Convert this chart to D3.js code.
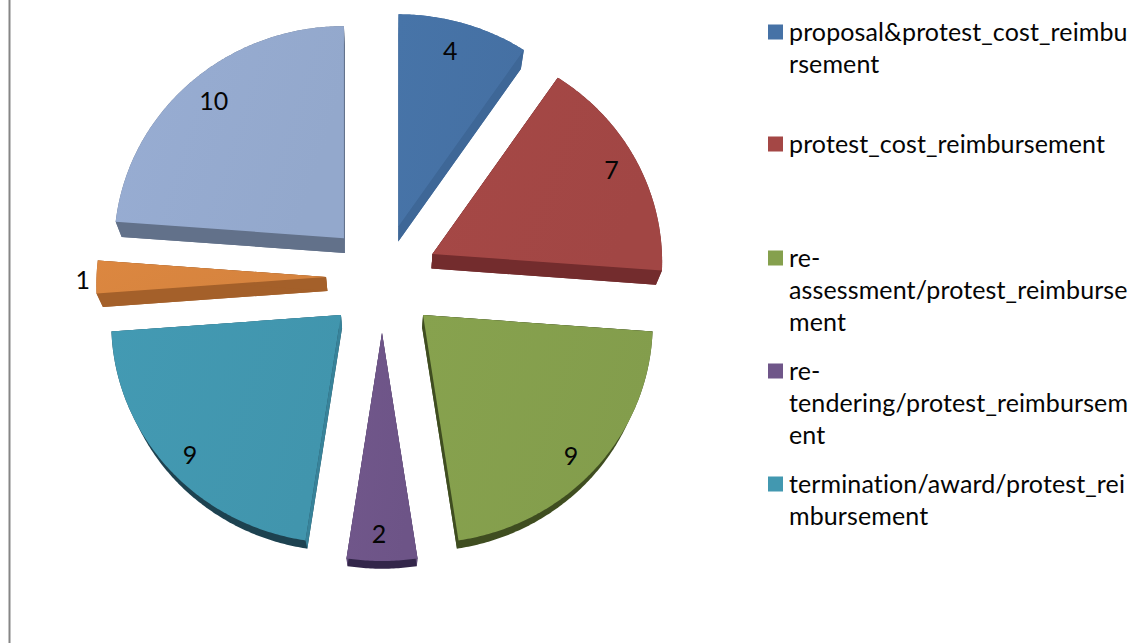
<!DOCTYPE html>
<html><head><meta charset="utf-8">
<script src="https://cdn.jsdelivr.net/npm/d3@7"></script>
<style>html,body{margin:0;padding:0;background:#fff;overflow:hidden}svg{display:block}text{font-family:Lato,"Open Sans",sans-serif;fill:#050505;font-variant-ligatures:none}</style>
</head><body><svg id="c" width="1147" height="643"></svg>
<script>
const values = [4, 7, 9, 2, 9, 1, 10];
const faceColors = ["#4672a6", "#a44745", "#85a04d", "#6f5689", "#4298b0", "#d9853f", "#96abd0"];
const rimColors  = ["#3e6797", "#732c2d", "#3f4d20", "#33264a", "#1d4250", "#a4602a", "#62718a"];
const sideColors = ["#3e6797", "#732c2d", "#3f4d20", "#5f4a78", "#38839a", "#a4602a", "#62718a"];
const legendLines = [
  ["proposal&protest_cost_reimbu", "rsement"],
  ["protest_cost_reimbursement"],
  ["re-", "assessment/protest_reimburse", "ment"],
  ["re-", "tendering/protest_reimbursem", "ent"],
  ["termination/award/protest_rei", "mbursement"]
];
const legendTops = [32, 144, 258, 371, 484];
const labelNudge = [[-5,0],[2,-3],[-2,7],[-3,2],[-1,6],[-1,2],[2,-2]];

const svg = d3.select("#c");
svg.append("line").attr("x1",9.5).attr("x2",9.5).attr("y1",0).attr("y2",643).attr("stroke","#868686").attr("stroke-width",2);

const cx = 382, cy = 277, explode = 56, explodeUp = 53;
const rxScale = d3.scaleLinear().domain([1,-1]).range([221,238]);
const ryScale = d3.scaleLinear().domain([1,-1]).range([212,228]);
const vanish = [388, 913], depth = 0.022;
const project = a => [rxScale(Math.cos(a))*Math.sin(a), -ryScale(Math.cos(a))*Math.cos(a)];
const extrude = p => [vanish[0]+(p[0]-vanish[0])*(1-depth), vanish[1]+(p[1]-vanish[1])*(1-depth)];
const line = d3.line().curve(d3.curveLinearClosed);

const arcs = d3.pie().sort(null)(values);
const defs = svg.append("defs");
const pies = svg.append("g"), labels = svg.append("g");

arcs.forEach((d,i) => {
  const m = (d.startAngle+d.endAngle)/2;
  const c = Math.cos(m);
  const off = [cx+explode*Math.sin(m), cy-(c>0?explodeUp:explode)*c];
  const n = Math.max(4, Math.ceil((d.endAngle-d.startAngle)/0.01));
  const pts = [off].concat(d3.range(n+1).map(k => {
    const a = d.startAngle+(d.endAngle-d.startAngle)*k/n, p = project(a);
    return [off[0]+p[0], off[1]+p[1]];
  }));
  const hull = d3.polygonHull(pts.concat(pts.map(extrude)));
  pies.append("path").attr("d", line(hull)).attr("fill", rimColors[i]);
  [pts[1], pts[pts.length-1]].forEach(e => {
    pies.append("path").attr("d", line([off, e, extrude(e), extrude(off)])).attr("fill", sideColors[i]);
  });
  const g = defs.append("linearGradient").attr("id","g"+i).attr("x1",0).attr("y1",0).attr("x2",1).attr("y2",0.3);
  g.append("stop").attr("offset",0).attr("stop-color", d3.color(faceColors[i]).brighter(0.04));
  g.append("stop").attr("offset",1).attr("stop-color", d3.color(faceColors[i]).darker(0.05));
  pies.append("path").attr("d", line(pts)).attr("fill", `url(#g${i})`);
  const f = d.value < 2 ? 1.055 : 0.87;
  const lp = project(m);
  labels.append("text").attr("x", off[0]+lp[0]*f+labelNudge[i][0]).attr("y", off[1]+lp[1]*f+labelNudge[i][1])
    .attr("text-anchor","middle").attr("dominant-baseline","central")
    .attr("font-size",25).text(d.value);
});

const lg = svg.append("g");
legendLines.forEach((lines,i) => {
  lg.append("rect").attr("x",768).attr("y",legendTops[i]-7.5).attr("width",15).attr("height",15)
    .attr("fill", faceColors[i]);
  lines.forEach((t,j) => {
    lg.append("text").attr("x",789).attr("y",legendTops[i]+j*32+8.5)
      .attr("font-size",25).attr("letter-spacing",0.12).text(t);
  });
});
</script></body></html>
